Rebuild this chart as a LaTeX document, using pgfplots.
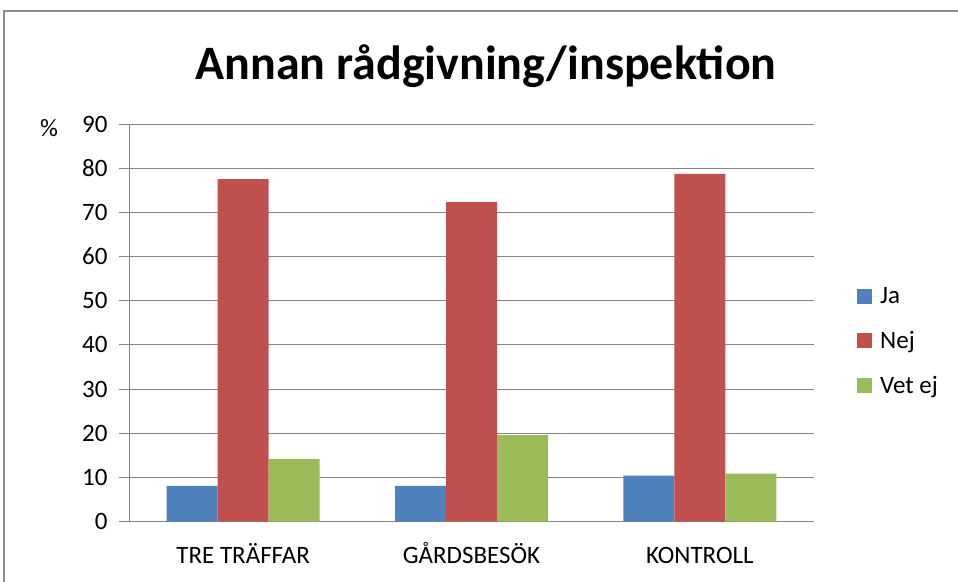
\documentclass[border=0pt]{standalone}
\usepackage{pgfplots}
\pgfplotsset{compat=1.18}
\usepackage{fontspec}
\setmainfont{Carlito}

\definecolor{jaBlue}{HTML}{4F81BD}
\definecolor{nejRed}{HTML}{C0504D}
\definecolor{vetGreen}{HTML}{9BBB59}
\definecolor{gridGray}{HTML}{868686}
\definecolor{frameGray}{HTML}{8C8C8C}

\begin{document}
\begin{tikzpicture}[x=1pt,y=1pt]
\useasboundingbox (0,0) rectangle (958,581);
% chart frame (cut off at right and bottom)
\draw[frameGray, line width=1.5pt] (4,-10) -- (4,570) -- (970,570);
\node[font=\bfseries\fontsize{48}{56}\selectfont] at (486,515) {Annan rådgivning/inspektion};
\node[font=\fontsize{25}{30}\selectfont] at (49,453) {\%};

\begin{axis}[
    at={(129pt,59.3pt)}, anchor=south west,
    width=685pt, height=397.7pt, scale only axis,
    xmin=-0.5, xmax=2.5, ymin=0, ymax=90,
    ybar=0pt, bar width=51pt,
    xtick={0,1,2},
    xticklabels={TRE TRÄFFAR, GÅRDSBESÖK, KONTROLL},
    ytick={0,10,...,90},
    axis lines*=left,
    axis line style={gridGray, line width=1pt},
    ymajorgrids, grid style={gridGray, line width=1pt},
    tick align=outside,
    major tick length=10pt,
    x tick style={draw=none},
    y tick style={gridGray, line width=1pt},
    ticklabel style={font=\fontsize{25}{30}\selectfont},
    /pgf/number format/assume math mode=true,
    yticklabel style={xshift=-8pt},
    xticklabel style={yshift=-8pt, text height=20pt, text depth=6pt},
    legend style={draw=none, at={(1,0.454)}, anchor=west, xshift=40pt,
        font=\fontsize{25}{30}\selectfont, row sep=22pt},
    legend cell align=left,
    legend image code/.code={\draw[#1, draw=none] (0pt,-7.5pt) rectangle (15pt,7.5pt);
        \path (0pt,0pt) -- (21pt,0pt);},
]
\addplot[fill=jaBlue, draw=none] coordinates {(0,8.1) (1,8.1) (2,10.4)};
\addplot[fill=nejRed, draw=none] coordinates {(0,77.5) (1,72.3) (2,78.7)};
\addplot[fill=vetGreen, draw=none] coordinates {(0,14.2) (1,19.6) (2,10.9)};
\legend{Ja, Nej, Vet ej}
\end{axis}
\end{tikzpicture}
\end{document}
